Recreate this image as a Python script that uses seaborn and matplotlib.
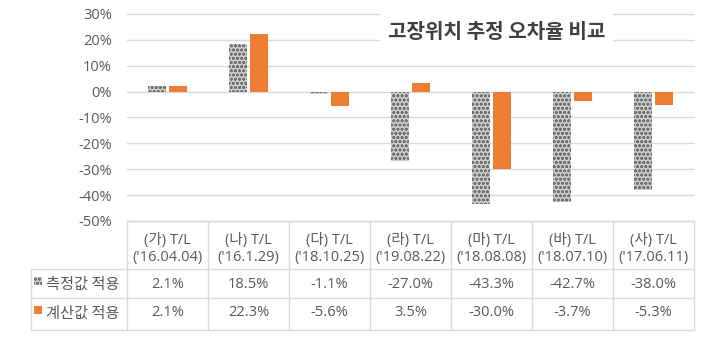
import numpy as np
import pandas as pd
import matplotlib
matplotlib.use("Agg")
import matplotlib.pyplot as plt
from matplotlib.patches import Rectangle
import seaborn as sns

categories = ["(가) T/L\n('16.04.04)", "(나) T/L\n('16.1.29)", "(다) T/L\n('18.10.25)",
              "(라) T/L\n('19.08.22)", "(마) T/L\n('18.08.08)", "(바) T/L\n('18.07.10)",
              "(사) T/L\n('17.06.11)"]
series_names = ["측정값 적용", "계산값 적용"]
measured = [2.1, 18.5, -1.1, -27.0, -43.3, -42.7, -38.0]
calculated = [2.1, 22.3, -5.6, 3.5, -30.0, -3.7, -5.3]
yticks = [-50, -40, -30, -20, -10, 0, 10, 20, 30]
title = "고장위치 추정 오차율 비교"

W, H = 710, 348
sns.set_style("white")
plt.rcParams['font.family'] = ['Open Sans', 'Noto Sans CJK KR', 'DejaVu Sans']
plt.rcParams['hatch.linewidth'] = 0.8
KR = ['Noto Sans CJK KR', 'DejaVu Sans']

TXT = "#595959"
GRID = "#d9d9d9"
ORANGE = "#ED7D31"
GRAY = "#cccccc"

df = pd.DataFrame({
    "cat": categories * 2,
    "series": [series_names[0]] * len(categories) + [series_names[1]] * len(categories),
    "value": measured + calculated,
})

fig = plt.figure(figsize=(W / 100, H / 100), dpi=100)
L, R = 127, 694
top, bot = 14, 221
ax = fig.add_axes([L / W, (H - bot) / H, (R - L) / W, (bot - top) / H])
sns.barplot(data=df, x="cat", y="value", hue="series", order=categories,
            hue_order=series_names, palette=[GRAY, ORANGE], width=0.52, gap=0.12,
            legend=False, ax=ax, linewidth=0, saturation=1)
for p in ax.containers[0]:
    p.set_hatch("oooo")
    p.set_edgecolor("#707070")
    p.set_linewidth(0)

ax.set_ylim(-50, 30)
ax.set_xlim(-0.5, 6.5)
ax.set_yticks(yticks)
ax.set_yticklabels([f"{v}%" for v in yticks], color=TXT, fontsize=10.5)
ax.tick_params(axis="y", length=0, pad=11)
ax.set_xticks([])
ax.set_xlabel("")
ax.set_ylabel("")
for s in ax.spines.values():
    s.set_visible(False)
ax.yaxis.grid(True, color=GRID, linewidth=1)
ax.set_axisbelow(True)
for g in ax.get_ygridlines():
    g.set_clip_on(False)

# title box (white) covering gridlines, then title text
rect = Rectangle((380 / W, 1 - 45 / H), (613 - 380) / W, 36 / H, transform=fig.transFigure,
                 facecolor="white", edgecolor="none", zorder=5)
fig.add_artist(rect)
fig.text(497 / W, 1 - 32 / H, title, ha="center", va="center", fontsize=14.5,
         fontweight="bold", color="#404040", family=KR, zorder=6)

# data table
tb = 330
tax = fig.add_axes([L / W, (H - tb) / H, (R - L) / W, (tb - bot) / H])
tax.set_xlim(-0.5, 6.5)
tax.set_ylim(tb, bot)
tax.axis("off")
colw = (R - L) / 7
xL = -0.5 - (L - 31) / colw
r1, r2 = 269, 298
kw = dict(color=GRID, linewidth=1, clip_on=False)
tax.plot([-0.5, 6.5], [bot, bot], **kw)
for y in (r1, r2, tb):
    tax.plot([xL, 6.5], [y, y], **kw)
for i in range(8):
    tax.plot([i - 0.5, i - 0.5], [bot, tb], **kw)
tax.plot([xL, xL], [r1, tb], **kw)

for i, c in enumerate(categories):
    l1, l2 = c.split("\n")
    tax.text(i, 240, l1, ha="center", va="center", fontsize=10.5, color=TXT)
    tax.text(i, 258, l2, ha="center", va="center", fontsize=10.5, color=TXT)
    tax.text(i, 284, f"{measured[i]:.1f}%", ha="center", va="center", fontsize=10.5, color=TXT)
    tax.text(i, 313, f"{calculated[i]:.1f}%", ha="center", va="center", fontsize=10.5, color=TXT)

mx = -0.5 - (L - 38) / colw
lx = -0.5 - (L - 46) / colw
tax.scatter([mx], [281], marker="s", s=30, color=GRAY, hatch="oooo",
            edgecolor="#707070", linewidth=0, clip_on=False)
tax.scatter([mx], [310], marker="s", s=30, color=ORANGE, linewidth=0, clip_on=False)
tax.text(lx, 284, series_names[0], ha="left", va="center", fontsize=11, color=TXT, family=KR)
tax.text(lx, 313, series_names[1], ha="left", va="center", fontsize=11, color=TXT, family=KR)

fig.savefig("out.png", dpi=100, facecolor="white")
